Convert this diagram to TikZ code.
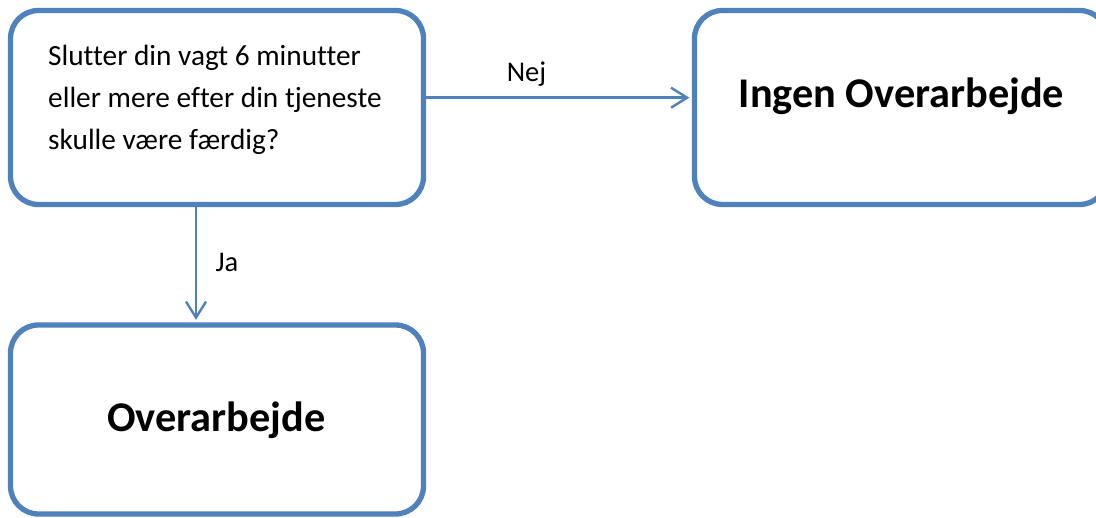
\documentclass[tikz,border=0pt]{standalone}
\usepackage{fontspec}
\setmainfont{Carlito}[Ligatures=NoCommon]
\usetikzlibrary{arrows.meta}
\definecolor{boxblue}{HTML}{4F81BD}
\tikzset{
  flowbox/.style={draw=boxblue, line width=5.3pt, rounded corners=28pt, rectangle,
    minimum width=413pt, inner sep=0pt, fill=white},
  arr/.style={draw=boxblue, line width=2.4pt, -{Straight Barb[length=16pt,width=20pt,line width=2.4pt]}, shorten >=2.5pt},
  plain/.style={font=\fontsize{29.3}{42}\selectfont, text=black, inner sep=0pt},
  bold/.style={font=\fontsize{42.3}{50}\selectfont\bfseries, text=black, inner sep=0pt},
  lab/.style={font=\fontsize{28.5}{34}\selectfont, text=black, inner sep=0pt}
}
\begin{document}
\begin{tikzpicture}[x=1pt,y=-1pt]
\clip (0,0) rectangle (1096,518);
\fill[white] (0,0) rectangle (1096,518);
\node[flowbox, minimum height=194pt] (q) at (217,107.5) {};
\node[flowbox, minimum height=194pt] (ingen) at (901,107.5) {};
\node[flowbox, minimum height=189pt] (over) at (217,419.5) {};
\node[plain, anchor=base west, align=left] (qtext) at (48,150) {Slutter din vagt 6 minutter\\eller mere efter din tjeneste\\skulle være færdig?};
\node[bold, anchor=base] (ingentext) at (901.5,108) {Ingen Overarbejde};
\node[bold, anchor=base] (overtext) at (216.5,432) {Overarbejde};
\draw[arr] ([yshift=9.8pt]q.east) -- ([yshift=9.8pt]q.east -| ingen.west);
\draw[arr] ([xshift=-21pt]q.south) -- ([xshift=-21pt]q.south |- over.north);
\node[lab, anchor=base] (nej) at (526.5,82) {Nej};
\node[lab, anchor=base] (ja) at (227,272) {Ja};
\end{tikzpicture}
\end{document}
